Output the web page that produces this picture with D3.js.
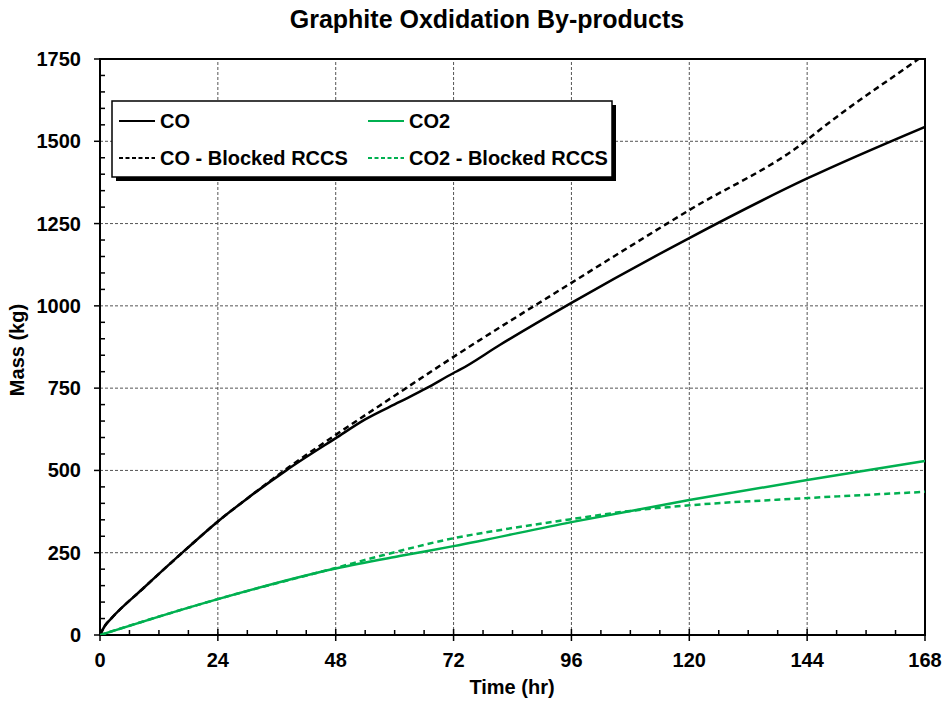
<!DOCTYPE html>
<html><head><meta charset="utf-8">
<script src="https://cdn.jsdelivr.net/npm/d3@7"></script>
<style>body{margin:0;background:#fff}svg{display:block}text{font-family:"Liberation Sans",Arial,sans-serif;font-weight:bold}</style>
</head><body><div id="chart"></div>
<script>
const title = "Graphite Oxdidation By-products";
const xTitle = "Time (hr)";
const yTitle = "Mass (kg)";
const xTicks = [0, 24, 48, 72, 96, 120, 144, 168];
const yTicks = [0, 250, 500, 750, 1000, 1250, 1500, 1750];
const seriesNames = ["CO", "CO2", "CO - Blocked RCCS", "CO2 - Blocked RCCS"];
const coT =   [0, 1, 2.4, 8.6, 17.5, 24, 30, 38, 48, 54, 61, 66.5, 72, 73.3, 81.4, 96, 120, 144, 168];
const coM =   [0, 28, 52, 139, 260, 345, 415, 501, 598, 655, 708, 750, 796, 806, 881, 1009, 1206, 1387, 1544];
const coBT =  [0, 1, 2.4, 8.6, 17.5, 24, 30, 38, 48, 60, 72, 96, 120, 144, 146.6, 166.4, 168];
const coBM =  [0, 28, 52, 139, 260, 345, 415, 505, 608, 727, 845, 1070, 1291, 1504, 1535, 1747, 1764];
const co2T =  [0, 12, 24, 48, 61, 72, 96, 120, 144, 168];
const co2M =  [0, 56, 109, 202, 240, 270, 343, 410, 471, 529];
const co2BT = [0, 12, 24, 48, 57.8, 72, 84, 96, 108, 120, 144, 168];
const co2BM = [0, 56, 109, 204, 243, 294, 325, 352, 377, 394, 416, 435];

const W = 947, H = 707;
const m = {l:100, r:22, t:59, b:72};
const iw = W - m.l - m.r, ih = H - m.t - m.b;
const svg = d3.select("#chart").append("svg").attr("width", W).attr("height", H);
const x = d3.scaleLinear().domain([0,168]).range([m.l, m.l+iw]);
const y = d3.scaleLinear().domain([0,1750]).range([m.t+ih, m.t]);

svg.append("text").attr("x", 487).attr("y", 28).attr("text-anchor","middle").attr("font-size",25).text(title);

// grid
const g = svg.append("g");
g.selectAll(".vg").data(xTicks.slice(1,-1)).join("line")
 .attr("x1", d=>x(d)).attr("x2", d=>x(d)).attr("y1", y(0)).attr("y2", y(1750))
 .attr("stroke","#555").attr("stroke-width",1).attr("stroke-dasharray","3,2");
g.selectAll(".hg").data(yTicks.slice(1,-1)).join("line")
 .attr("y1", d=>y(d)).attr("y2", d=>y(d)).attr("x1", x(0)).attr("x2", x(168))
 .attr("stroke","#555").attr("stroke-width",1).attr("stroke-dasharray","3,2");

// minor ticks
const xMinor = d3.range(0, 169, 6).filter(v => v % 24 !== 0);
const yMinor = d3.range(0, 1751, 50).filter(v => v % 250 !== 0);
g.selectAll(".xm").data(xMinor).join("line").attr("x1",d=>x(d)).attr("x2",d=>x(d)).attr("y1",y(0)).attr("y2",y(0)-5).attr("stroke","#000").attr("stroke-width",1.5);
g.selectAll(".ym").data(yMinor).join("line").attr("y1",d=>y(d)).attr("y2",d=>y(d)).attr("x1",x(0)).attr("x2",x(0)+5).attr("stroke","#000").attr("stroke-width",1.5);
g.selectAll(".xM").data(xTicks).join("line").attr("x1",d=>x(d)).attr("x2",d=>x(d)).attr("y1",y(0)-6).attr("y2",y(0)+6).attr("stroke","#000").attr("stroke-width",1.5);
g.selectAll(".yM").data(yTicks).join("line").attr("y1",d=>y(d)).attr("y2",d=>y(d)).attr("x1",x(0)-6).attr("x2",x(0)).attr("stroke","#000").attr("stroke-width",1.5);

// frame
svg.append("rect").attr("x",x(0)).attr("y",y(1750)).attr("width",iw).attr("height",ih).attr("fill","none").attr("stroke","#000").attr("stroke-width",2);

// labels
svg.selectAll(".xl").data(xTicks).join("text").attr("x",d=>x(d)).attr("y",y(0)+32).attr("text-anchor","middle").attr("font-size",20).text(d=>d);
svg.selectAll(".yl").data(yTicks).join("text").attr("x",x(0)-19).attr("y",d=>y(d)+7).attr("text-anchor","end").attr("font-size",20).text(d=>d);
svg.append("text").attr("x",512).attr("y",694).attr("text-anchor","middle").attr("font-size",20).text(xTitle);
svg.append("text").attr("transform","translate(24,350) rotate(-90)").attr("text-anchor","middle").attr("font-size",20).text(yTitle);

// lines
svg.append("clipPath").attr("id","clip").append("rect").attr("x",x(0)).attr("y",y(1750)).attr("width",iw).attr("height",ih);
const line = d3.line().x(d=>x(d[0])).y(d=>y(d[1])).curve(d3.curveMonotoneX);
const green = "#00b050";
const series = [
 {t:coT, v:coM, c:"#000", dash:null},
 {t:co2T, v:co2M, c:green, dash:null},
 {t:coBT, v:coBM, c:"#000", dash:"6,4"},
 {t:co2BT, v:co2BM, c:green, dash:"6,4"}
];
const lg = svg.append("g").attr("clip-path","url(#clip)");
series.forEach(s => {
  lg.append("path").datum(s.t.map((t,i)=>[t,s.v[i]])).attr("d",line)
    .attr("fill","none").attr("stroke",s.c).attr("stroke-width",2.5)
    .attr("stroke-dasharray",s.dash);
});

// legend
const L = svg.append("g");
L.append("rect").attr("x",116).attr("y",105).attr("width",500).attr("height",76).attr("fill","#000");
L.append("rect").attr("x",112).attr("y",101).attr("width",500).attr("height",76).attr("fill","#fff").attr("stroke","#000").attr("stroke-width",1.5);
const lpos = [[119,121],[368,121],[119,158],[368,158]];
series.forEach((s,i)=>{
  const [lx,ly]=lpos[i];
  L.append("line").attr("x1",lx).attr("x2",lx+36).attr("y1",ly).attr("y2",ly).attr("stroke",s.c).attr("stroke-width",2).attr("stroke-dasharray",s.dash?"4,2.5":null);
  L.append("text").attr("x",lx+41).attr("y",ly+7).attr("font-size",20).text(seriesNames[i]);
});
</script></body></html>
